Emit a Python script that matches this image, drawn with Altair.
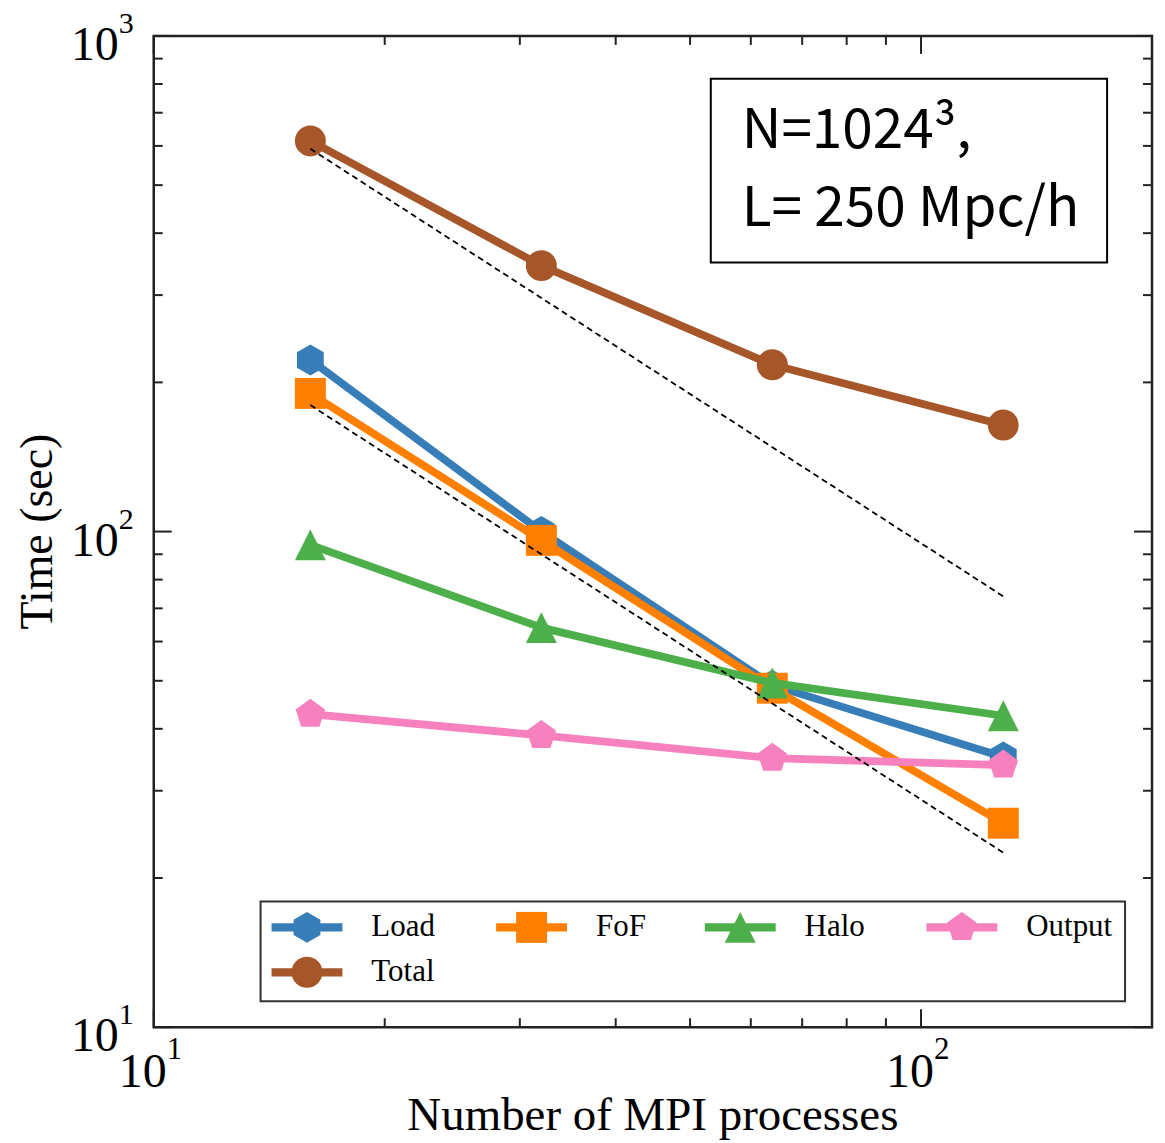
import altair as alt
import pandas as pd
import numpy as np

# ---------------- data ----------------
procs = [16, 32, 64, 128]
load = [222, 100, 49, 35.1]
fof = [190, 96, 48.3, 25.8]
halo = [94, 64, 49.5, 42.5]
output = [42.8, 38.8, 34.9, 33.8]
total = [614, 344, 217, 164]

series_names = ["Load", "FoF", "Halo", "Output", "Total"]
series_values = [load, fof, halo, output, total]
series_colors = ["#377eb8", "#ff7f00", "#4daf4a", "#f781bf", "#a65628"]

ideal_procs = [16, 128]
ideal_total = [592, 74]
ideal_fof = [180, 22.5]

x_major = [10, 100]
x_minor = [20, 30, 40, 50, 60, 70, 80, 90]
y_major = [10, 100, 1000]
y_minor = [20, 30, 40, 50, 60, 70, 80, 90, 200, 300, 400, 500, 600, 700, 800, 900]

x_title = "Number of MPI processes"
y_title = "Time (sec)"
note_line1 = "N=1024³,"
note_line2 = "L= 250 Mpc/h"

# ---------------- style ----------------
W, H = 1000, 993
SERIF = "Liberation Serif"
SANS = "Noto Sans CJK SC"
HEX = "M0,-1L0.866,-0.5L0.866,0.5L0,1L-0.866,0.5L-0.866,-0.5Z"
PENT = "M0,-1L0.951,-0.309L0.588,0.809L-0.588,0.809L-0.951,-0.309Z"
TRI = "M0,-1L1,1L-1,1Z"
shapes = [HEX, "square", TRI, PENT, "circle"]
MSIZE = 961
LW = 7.8
TICK_COLOR = "#222222"
MAJ, MIN = 18, 9

xs = alt.Scale(type="log", domain=[10, 200])
ys = alt.Scale(type="log", domain=[10, 1000])


def X(field):
    return alt.X(field, type="quantitative", scale=xs, axis=None)


def Y(field):
    return alt.Y(field, type="quantitative", scale=ys, axis=None)


layers = []

# series lines + markers
for name, vals, col, shp in zip(series_names, series_values, series_colors, shapes):
    df = pd.DataFrame({"procs": procs, "time": vals, "series": name})
    layers.append(
        alt.Chart(df).mark_line(color=col, strokeWidth=LW, strokeJoin="round")
        .encode(x=X("procs"), y=Y("time"))
    )
    layers.append(
        alt.Chart(df).mark_point(filled=True, shape=shp, size=MSIZE, color=col,
                                 opacity=1, strokeWidth=0)
        .encode(x=X("procs"), y=Y("time"))
    )

# ideal scaling dashed lines
ideal_df = pd.DataFrame({
    "procs": ideal_procs + ideal_procs,
    "time": ideal_total + ideal_fof,
    "grp": ["total", "total", "fof", "fof"],
})
layers.append(
    alt.Chart(ideal_df).mark_line(color="black", strokeWidth=1.8, strokeDash=[6, 4])
    .encode(x=X("procs"), y=Y("time"), detail="grp:N")
)

# ---------------- legend ----------------
leg_x0 = 107
leg_x1 = 973
leg_y0 = 867
leg_y1 = 967
layers.append(
    alt.Chart(pd.DataFrame({"a": [0]})).mark_rect(fill="white", stroke="#333333", strokeWidth=2)
    .encode(x=alt.value(leg_x0), x2=alt.value(leg_x1), y=alt.value(leg_y0), y2=alt.value(leg_y1))
)
col_x = [118, 343, 552, 774]
row_y = [893, 938]
for i, (name, col, shp) in enumerate(zip(series_names, series_colors, shapes)):
    r, c = divmod(i, 4)
    x0 = col_x[c]
    ly = row_y[r]
    d = pd.DataFrame({"name": [name]})
    layers.append(
        alt.Chart(d).mark_rule(color=col, strokeWidth=LW + 0.5)
        .encode(x=alt.value(x0), x2=alt.value(x0 + 71), y=alt.value(ly))
    )
    layers.append(
        alt.Chart(d).mark_point(filled=True, shape=shp, size=MSIZE, color=col,
                                opacity=1, strokeWidth=0)
        .encode(x=alt.value(x0 + 35.5), y=alt.value(ly))
    )
    layers.append(
        alt.Chart(d).mark_text(font=SERIF, fontSize=31, align="left", baseline="middle", color="black")
        .encode(x=alt.value(x0 + 100), y=alt.value(ly), text="name:N")
    )

# ---------------- annotation box ----------------
layers.append(
    alt.Chart(pd.DataFrame({"a": [0]})).mark_rect(fill="white", stroke="black", strokeWidth=2)
    .encode(x=alt.value(558), x2=alt.value(955), y=alt.value(43), y2=alt.value(227))
)
for txt, yb in [(note_line1, 112), (note_line2, 190)]:
    layers.append(
        alt.Chart(pd.DataFrame({"t": [txt]})).mark_text(font=SANS, fontSize=55, align="left",
                                                        baseline="alphabetic", color="black")
        .encode(x=alt.value(589), y=alt.value(yb), text="t:N")
    )

# ---------------- ticks (inward, all four sides) ----------------
for vals, L in [(x_major, MAJ), (x_minor, MIN)]:
    d = pd.DataFrame({"v": vals})
    layers.append(alt.Chart(d).mark_rule(color=TICK_COLOR, strokeWidth=2)
                  .encode(x=X("v"), y=alt.value(H), y2=alt.value(H - L)))
    layers.append(alt.Chart(d).mark_rule(color=TICK_COLOR, strokeWidth=2)
                  .encode(x=X("v"), y=alt.value(0), y2=alt.value(L)))
for vals, L in [(y_major, MAJ), (y_minor, MIN)]:
    d = pd.DataFrame({"v": vals})
    layers.append(alt.Chart(d).mark_rule(color=TICK_COLOR, strokeWidth=2)
                  .encode(y=Y("v"), x=alt.value(0), x2=alt.value(L)))
    layers.append(alt.Chart(d).mark_rule(color=TICK_COLOR, strokeWidth=2)
                  .encode(y=Y("v"), x=alt.value(W), x2=alt.value(W - L)))

# ---------------- tick labels (10 with superscript exponent) ----------------
xl = pd.DataFrame({"v": x_major, "base": ["10"] * len(x_major),
                   "exp": [str(int(round(np.log10(v)))) for v in x_major]})
layers.append(alt.Chart(xl).mark_text(font=SERIF, fontSize=48, align="right", baseline="alphabetic",
                                      dx=13, color="black")
              .encode(x=X("v"), y=alt.value(H + 60), text="base:N"))
layers.append(alt.Chart(xl).mark_text(font=SERIF, fontSize=31, align="left", baseline="alphabetic",
                                      dx=13, color="black")
              .encode(x=X("v"), y=alt.value(H + 32), text="exp:N"))

yl = pd.DataFrame({"v": y_major, "base": ["10"] * len(y_major),
                   "exp": [str(int(round(np.log10(v)))) for v in y_major]})
layers.append(alt.Chart(yl).mark_text(font=SERIF, fontSize=48, align="right", baseline="alphabetic",
                                      dy=24, color="black")
              .encode(y=Y("v"), x=alt.value(-35), text="base:N"))
layers.append(alt.Chart(yl).mark_text(font=SERIF, fontSize=30, align="left", baseline="alphabetic",
                                      dy=-3, color="black")
              .encode(y=Y("v"), x=alt.value(-35), text="exp:N"))

# ---------------- axis titles ----------------
layers.append(alt.Chart(pd.DataFrame({"t": [x_title]})).mark_text(
    font=SERIF, fontSize=47, align="center", baseline="alphabetic", color="black")
    .encode(x=alt.value(W / 2), y=alt.value(H + 103), text="t:N"))
layers.append(alt.Chart(pd.DataFrame({"t": [y_title]})).mark_text(
    font=SERIF, fontSize=46, align="center", baseline="alphabetic", angle=270, color="black")
    .encode(x=alt.value(-102), y=alt.value(H / 2), text="t:N"))

chart = alt.layer(*layers).properties(
    width=W, height=H,
    autosize=alt.AutoSizeParams(type="none"),
    padding={"left": 146, "top": 27, "right": 5, "bottom": 115},
    background="white",
).configure_view(stroke="#222222", strokeWidth=2.5)

chart.save("out.html", embed_options={"renderer": "svg", "actions": False})
